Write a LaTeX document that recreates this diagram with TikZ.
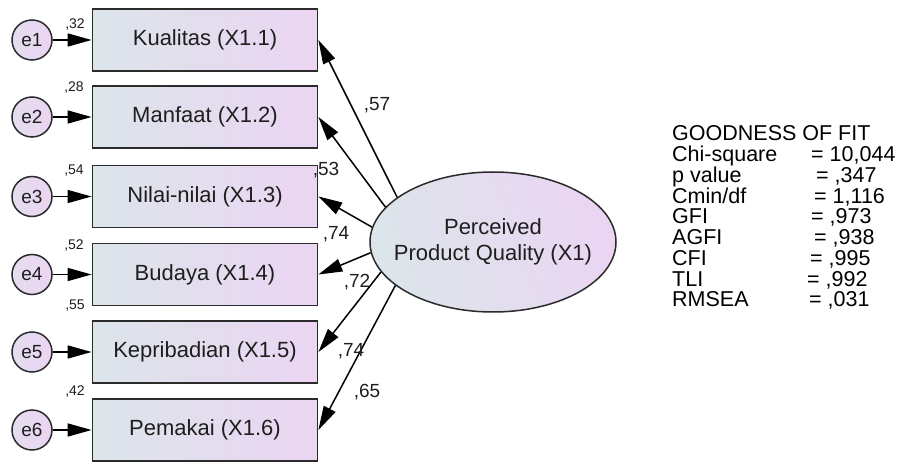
\documentclass[tikz,border=0pt]{standalone}
\usepackage{fontspec}
\setmainfont{Liberation Sans}
\usetikzlibrary{arrows.meta,shapes.geometric}
\definecolor{cL}{HTML}{DCE5EA}
\definecolor{cR}{HTML}{EBD5F3}
\definecolor{bd}{HTML}{2B2B2B}
\definecolor{tx}{HTML}{1E1E1E}
\begin{document}
\begin{tikzpicture}[x=1pt,y=-1pt,
  obs/.style={draw=bd,line width=1.8pt,minimum width=225pt,minimum height=62pt,inner sep=0pt,
    left color=cL,right color=cR,text=tx,font=\fontsize{22}{26}\selectfont},
  err/.style={circle,draw=bd,line width=1.5pt,minimum size=40pt,inner sep=0pt,
    left color=cL!50!cR,right color=cR,text=tx,font=\fontsize{19}{20}\selectfont},
  lat/.style={ellipse,draw=bd,line width=1.5pt,minimum width=246pt,minimum height=140pt,inner sep=0pt,
    left color=cL,right color=cR,shading angle=110},
  lattext/.style={align=center,inner sep=0pt,text=tx,font=\fontsize{22}{26}\selectfont},
  arr/.style={-{Triangle[length=24pt,width=13pt]},line width=1.5pt,draw=black},
  lbl/.style={inner sep=0pt,text=tx,font=\fontsize{19}{20}\selectfont},
  var/.style={inner sep=0pt,text=tx,font=\fontsize{14}{15}\selectfont},
  gof/.style={anchor=base west,inner sep=0pt,text=black,font=\fontsize{21.5}{24}\selectfont}
]
\useasboundingbox[fill=white] (0,0) rectangle (914,465);

% observed indicators
\node[obs] (b1) at (205,40)    {Kualitas (X1.1)};
\node[obs] (b2) at (205,117)   {Manfaat (X1.2)};
\node[obs] (b3) at (205,196.5) {Nilai-nilai (X1.3)};
\node[obs] (b4) at (205,274.5) {Budaya (X1.4)};
\node[obs] (b5) at (205,352)   {Kepribadian (X1.5)};
\node[obs] (b6) at (205,430)   {Pemakai (X1.6)};

% error terms
\node[err] (e1) at (32,40)    {e1};
\node[err] (e2) at (32,117)   {e2};
\node[err] (e3) at (32,196.5) {e3};
\node[err] (e4) at (32,274.5) {e4};
\node[err] (e5) at (32,352)   {e5};
\node[err] (e6) at (32,430)   {e6};

\foreach \i in {1,...,6} { \draw[arr] (e\i) -- (b\i); }

% variance labels
\node[var] (v1) at (75,25)  {,32};
\node[var] (v2) at (74,88)  {,28};
\node[var] (v3) at (74,171) {,54};
\node[var] (v4) at (74,246) {,52};
\node[var] (v5) at (75,306) {,55};
\node[var] (v6) at (75,392) {,42};

% latent
\node[lat] (pq) at (493,242) {};
\node[lattext] (pqt) at (pq.center) {Perceived\\Product Quality (X1)};

\draw[arr] (pq.155) -- (b1.east);
\draw[arr] (pq.162) -- (b2.east);
\draw[arr] (pq.173) -- (b3.east);
\draw[arr] (pq.185) -- (b4.east);
\draw[arr] (pq.195) -- (b5.east);
\draw[arr] (pq.204) -- (b6.east);

% loadings
\node[lbl] (l1) at (377,105) {,57};
\node[lbl] (l2) at (326,170) {,53};
\node[lbl] (l3) at (336,234) {,74};
\node[lbl] (l4) at (357,282) {,72};
\node[lbl] (l5) at (351,351) {,74};
\node[lbl] (l6) at (367,392) {,65};

% goodness of fit
\node[gof] (g0) at (672,141)    {GOODNESS OF FIT};
\node[gof] (g1) at (672,161.75) {Chi-square};
\node[gof] (g2) at (672,182.5)  {p value};
\node[gof] (g3) at (672,203.25) {Cmin/df};
\node[gof] (g4) at (672,224)    {GFI};
\node[gof] (g5) at (672,244.75) {AGFI};
\node[gof] (g6) at (672,265.5)  {CFI};
\node[gof] (g7) at (672,286.25) {TLI};
\node[gof] (g8) at (672,307)    {RMSEA};
\node[gof] (h1) at (811,161.75) {= 10,044};
\node[gof] (h2) at (816,182.5)  {= ,347};
\node[gof] (h3) at (814,203.25) {= 1,116};
\node[gof] (h4) at (811,224)    {= ,973};
\node[gof] (h5) at (814,244.75) {= ,938};
\node[gof] (h6) at (810,265.5)  {= ,995};
\node[gof] (h7) at (807,286.25) {= ,992};
\node[gof] (h8) at (809,307)    {= ,031};
\end{tikzpicture}
\end{document}
